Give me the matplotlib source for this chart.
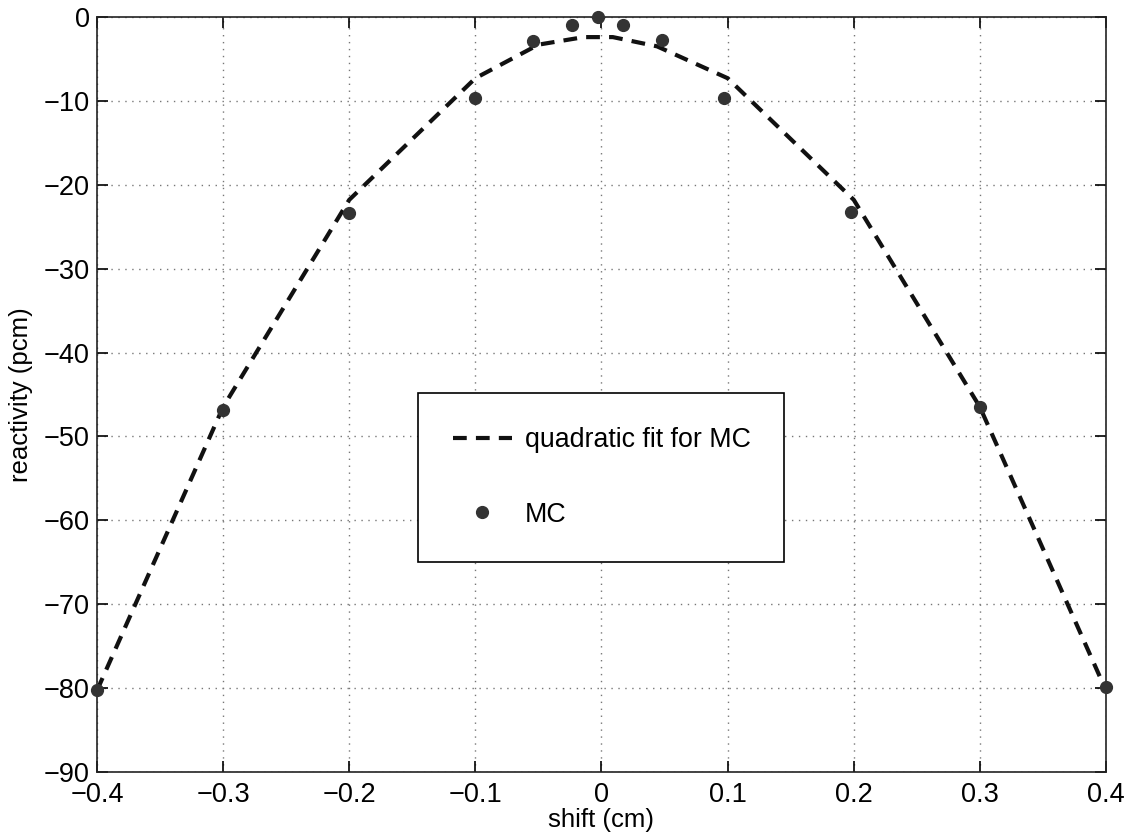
import matplotlib.pyplot as plt

plt.rcParams['font.family'] = ['Liberation Sans', 'DejaVu Sans']

# MC points
mc_shift = [-0.4, -0.3, -0.2, -0.1, -0.054, -0.023, -0.003, 0.017, 0.048, 0.097, 0.198, 0.3, 0.4]
mc_react = [-80.2, -46.8, -23.4, -9.6, -2.9, -0.9, 0.0, -0.9, -2.8, -9.6, -23.2, -46.5, -79.9]

# quadratic fit
fit_shift = [-0.4, -0.3, -0.2, -0.1, -0.05, -0.014, 0.0, 0.009, 0.044, 0.1, 0.2, 0.3, 0.4]
fit_react = [-80.3, -46.5, -21.8, -7.3, -3.3, -2.4, -2.4, -2.4, -3.5, -7.3, -21.8, -46.5, -80.3]

xticks = [-0.4, -0.3, -0.2, -0.1, 0, 0.1, 0.2, 0.3, 0.4]
xtick_labels = ['\u22120.4', '\u22120.3', '\u22120.2', '\u22120.1', '0', '0.1', '0.2', '0.3', '0.4']
yticks = [-90, -80, -70, -60, -50, -40, -30, -20, -10, 0]
ytick_labels = ['\u221290', '\u221280', '\u221270', '\u221260', '\u221250',
                '\u221240', '\u221230', '\u221220', '\u221210', '0']

fig = plt.figure(figsize=(11.3, 8.36), dpi=100)
ax = fig.add_axes([0.0858, 0.0766, 0.893, 0.9031])

ax.plot(fit_shift, fit_react, color='#111111', lw=3, dashes=(3.3, 2.2),
        label='quadratic fit for MC')
ax.plot(mc_shift, mc_react, 'o', color='#333333', ms=8.5, label='MC',
        clip_on=False, zorder=5)

ax.set_xlim(-0.4, 0.4)
ax.set_ylim(-90, 0)
ax.set_xticks(xticks)
ax.set_xticklabels(xtick_labels)
ax.set_yticks(yticks)
ax.set_yticklabels(ytick_labels)
ax.tick_params(direction='in', length=8, width=1.2, labelsize=19.5,
               top=True, right=True)
ax.tick_params(axis='x', pad=7)
ax.tick_params(axis='y', pad=5)
ax.grid(True, linestyle=(0, (1, 4)), color='#777777', lw=1)
for s in ax.spines.values():
    s.set_linewidth(1.2)
    s.set_color('#222222')

ax.set_xlabel('shift (cm)', fontsize=18.5, labelpad=0)
ax.set_ylabel('reactivity (pcm)', fontsize=18.5, labelpad=8)

leg = ax.legend(loc='center', bbox_to_anchor=(0.318, 0.278, 0.363, 0.224),
                mode='expand', borderaxespad=0, fontsize=19.3, fancybox=False,
                framealpha=1, edgecolor='black', labelspacing=1.8,
                borderpad=1.3, handlelength=2.2, handletextpad=0.5, numpoints=1)
leg.get_frame().set_linewidth(1.2)

fig.savefig('out.png', dpi=100)
